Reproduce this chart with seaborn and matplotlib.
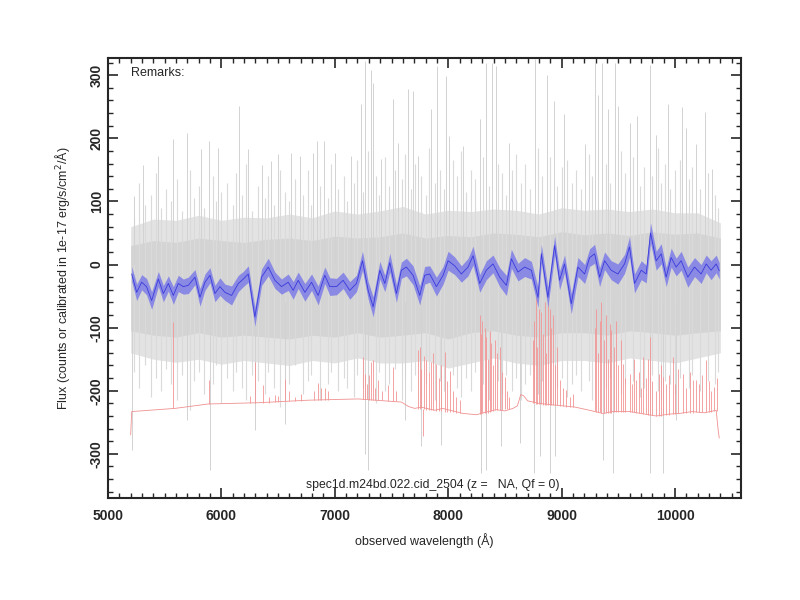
import seaborn as sns
import matplotlib.pyplot as plt
import pandas as pd
import numpy as np
from matplotlib.ticker import MultipleLocator

sns.set_style("ticks")
plt.rcParams["font.family"] = ["Liberation Sans", "DejaVu Sans"]
plt.rcParams["axes.unicode_minus"] = False

# --- smoothed object spectrum (blue) ---
blue_wl = [5209, 5253, 5297, 5340, 5385, 5444, 5488, 5532, 5576, 5620,
           5664, 5708, 5767, 5811, 5855, 5899, 5943, 5987, 6031, 6090,
           6149, 6193, 6237, 6295, 6354, 6413, 6472, 6530, 6589, 6633,
           6677, 6736, 6795, 6853, 6912, 6956, 7015, 7073, 7132, 7191,
           7244, 7294, 7338, 7397, 7441, 7485, 7543, 7587, 7631, 7690,
           7749, 7793, 7837, 7896, 7955, 7999, 8057, 8116, 8175, 8219,
           8278, 8336, 8395, 8454, 8513, 8557, 8615, 8674, 8733, 8792,
           8821, 8879, 8938, 8982, 9026, 9085, 9144, 9203, 9247, 9291,
           9335, 9379, 9437, 9496, 9555, 9599, 9643, 9702, 9746, 9784,
           9834, 9878, 9922, 9966, 10010, 10054, 10113, 10172, 10230, 10275,
           10318, 10363, 10390]
blue_flux = [-15, -44, -28, -35, -57, -23, -46, -30, -49, -30,
             -35, -33, -20, -52, -28, -17, -46, -35, -44, -49,
             -30, -23, -15, -83, -20, -4, -25, -35, -28, -41,
             -25, -44, -28, -49, -17, -35, -35, -25, -41, -30,
             6, -41, -67, -9, -30, 3, -46, -9, -4, -17,
             -49, -17, -15, -35, -17, 6, -2, -15, -4, 14,
             -30, -9, 1, -20, -33, 9, -12, -4, -9, -52,
             17, -52, 30, -25, 1, -62, -4, -15, 11, 17,
             -20, 6, -9, -15, 1, 28, -30, -9, -15, 50,
             6, 17, -20, 11, -4, 6, -20, -4, -15, 1,
             -9, 1, -10]
blue_err = [12, 13, 12, 13, 14, 12, 13, 12, 14, 13,
            12, 13, 12, 14, 13, 12, 13, 14, 13, 15,
            13, 12, 13, 15, 13, 14, 13, 12, 13, 14,
            13, 14, 13, 15, 13, 14, 13, 13, 14, 13,
            15, 14, 16, 14, 13, 15, 14, 13, 14, 15,
            15, 14, 13, 15, 14, 15, 14, 13, 14, 15,
            14, 15, 14, 15, 16, 15, 14, 15, 14, 16,
            15, 16, 15, 15, 14, 16, 15, 15, 14, 15,
            15, 14, 15, 16, 15, 16, 15, 15, 14, 16,
            15, 16, 15, 15, 14, 15, 16, 15, 15, 14,
            15, 14, 13]

# --- raw spectrum (grey): dense core and wider band, every 200 A from 5200 ---
env_wl = list(range(5200, 10401, 200))
core_hi = [30, 38, 35, 42, 38, 35, 40, 42, 38, 45, 42, 44, 50, 42,
           46, 44, 50, 48, 44, 52, 47, 50, 46, 52, 48, 50, 42]
core_lo = [-105, -112, -115, -108, -115, -112, -115, -118, -112, -115,
           -108, -115, -112, -108, -118, -108, -105, -112, -115, -108,
           -108, -112, -105, -108, -112, -108, -105]
band_hi = [60, 72, 70, 78, 70, 75, 74, 80, 74, 85, 80, 85, 92, 80,
           86, 84, 88, 86, 80, 90, 86, 88, 84, 88, 82, 82, 66]
band_lo = [-140, -150, -155, -150, -158, -152, -156, -160, -152, -156,
           -148, -156, -156, -152, -164, -156, -148, -156, -160, -152,
           -152, -156, -148, -152, -156, -148, -140]

# strokes of the noisy pixels around the core
grey_mid_wl = [5225, 5270, 5330, 5375, 5420, 5470, 5515, 5555, 5610, 5650,
               5720, 5760, 5800, 5850, 5925, 5950, 6000, 6050, 6100, 6130,
               6180, 6215, 6270, 6320, 6385, 6410, 6460, 6520, 6560, 6600,
               6650, 6720, 6760, 6790, 6870, 6940, 6970, 7030, 7080, 7110,
               7170, 7200, 7250, 7290, 7360, 7390, 7440, 7480, 7530, 7590,
               7620, 7670, 7710, 7760, 7800, 7830, 7880, 7930, 7960, 8040,
               8080, 8110, 8160, 8200, 8240, 8310, 8360, 8440, 8470, 8510,
               8560, 8600, 8640, 8680, 8720, 8790, 8830, 8900, 8960, 9000,
               9050, 9090, 9130, 9170, 9240, 9270, 9390, 9430, 9520, 9560,
               9630, 9690, 9730, 9800, 9850, 9880, 9910, 9960, 10000, 10040,
               10120, 10150, 10220, 10290, 10350, 10375]
grey_mid_top = [75, 130, 95, 110, 145, 90, 120, 100, 135, 85,
                150, 105, 125, 90, 140, 100, 115, 130, 95, 145,
                110, 160, 85, 125, 105, 140, 95, 150, 115, 100,
                135, 110, 150, 95, 125, 105, 160, 120, 140, 100,
                130, 165, 115, 180, 140, 110, 170, 125, 150, 135,
                175, 120, 160, 140, 110, 185, 130, 150, 120, 165,
                140, 180, 115, 150, 135, 170, 125, 160, 145, 110,
                150, 175, 130, 160, 120, 185, 140, 170, 125, 155,
                165, 130, 150, 120, 175, 140, 160, 130, 180, 145,
                170, 125, 155, 140, 185, 130, 160, 120, 150, 165,
                135, 155, 120, 145, 110, 90]
grey_mid_bot = [-170, -195, -160, -210, -180, -200, -165, -190, -215, -175,
                -230, -185, -170, -205, -190, -160, -220, -180, -200, -170,
                -195, -215, -175, -185, -205, -170, -195, -225, -180, -190,
                -160, -205, -185, -175, -215, -190, -170, -200, -180, -195,
                -210, -175, -195, -185, -220, -170, -200, -190, -165, -215,
                -180, -200, -175, -210, -190, -170, -215, -185, -200, -175,
                -195, -210, -180, -200, -170, -190, -215, -185, -205, -175,
                -200, -180, -215, -190, -175, -205, -185, -220, -195, -180,
                -210, -190, -175, -200, -185, -215, -195, -180, -205, -190,
                -185, -210, -195, -175, -200, -215, -185, -190, -205, -180,
                -195, -175, -200, -185, -190, -170]

# single noisy pixels reaching far up / down
grey_up_wl = [5232, 5312, 5444, 5576, 5693, 5820, 5890, 5972, 6154, 6237,
              6354, 6433, 6501, 6618, 6692, 6809, 6839, 6906, 7000, 7147,
              7229, 7270, 7315, 7338, 7411, 7514, 7558, 7646, 7690, 7734,
              7852, 7902, 7984, 8007, 8131, 8278, 8336, 8389, 8418, 8536,
              8762, 8871, 8930, 9021, 9203, 9291, 9320, 9355, 9408, 9467,
              9496, 9599, 9664, 9775, 9828, 9937, 10063, 10098, 10187, 10263,
              10328]
grey_up_top = [109, 157, 172, 199, 209, 183, 196, 185, 251, 183,
               157, 164, 175, 177, 172, 177, 196, 196, 177, 172,
               254, 322, 309, 288, 167, 262, 193, 278, 275, 172,
               246, 314, 298, 204, 188, 230, 320, 320, 314, 193,
               325, 301, 259, 238, 191, 325, 269, 320, 246, 320,
               251, 225, 235, 317, 206, 254, 249, 217, 191, 241,
               151]
grey_dn_wl = [5209, 5693, 5899, 6295, 6560, 7265, 7290, 7617, 7764, 7940,
              8292, 8336, 8468, 8630, 8753, 8806, 8894, 8938, 9364, 9452,
              9775, 9893, 10010]
grey_dn_bot = [-294, -246, -325, -262, -252, -300, -325, -246, -288, -286,
               -330, -325, -288, -283, -330, -304, -330, -304, -310, -330,
               -330, -330, -246]

# --- sky spectrum (red), offset below the object ---
red_base_wl = [5200, 5209, 5590, 5884, 6325, 6765, 7206, 7588, 7650, 7705,
               7760, 7881, 7950, 8131, 8248, 8330, 8424, 8500, 8571, 8610,
               8640, 8665, 8700, 8800, 8900, 9012, 9120, 9247, 9364, 9450,
               9599, 9700, 9834, 9950, 10040, 10150, 10260, 10363, 10380, 10390]
red_base = [-270, -233, -228, -221, -219, -215, -213, -218, -225, -228,
            -226, -231, -228, -236, -238, -234, -230, -232, -228, -224,
            -206, -208, -216, -220, -222, -224, -226, -231, -236, -233,
            -233, -236, -240, -237, -236, -233, -235, -231, -262, -275]
red_line_wl = [5577, 5890, 6250, 6300, 6363, 6470, 6560, 6853, 6912, 6941,
               7250, 7265, 7323, 7338, 7382, 7470, 7514, 7734, 7749, 7808,
               7852, 7896, 7969, 8013, 8280, 8300, 8336, 8380, 8410, 8454,
               8498, 8747, 8771, 8800, 8850, 8880, 8920, 8983, 9041, 9305,
               9350, 9393, 9437, 9481, 9540, 9599, 9658, 9717, 9775, 9863,
               9893, 9981, 10069, 10157, 10187, 10275, 10348,
               7780, 6420, 6500, 6600, 6650, 6700, 6820, 6880, 7280, 7300,
               7355, 7420, 7540, 7760, 7790, 7830, 7870, 7920, 7940, 7990,
               8040, 8070, 8100, 8290, 8320, 8350, 8370, 8395, 8430, 8470,
               8520, 8540, 8760, 8785, 8815, 8835, 8865, 8895, 8910, 8940,
               8960, 9010, 9070, 9100, 9290, 9320, 9335, 9370, 9410, 9425,
               9460, 9500, 9520, 9560, 9620, 9640, 9680, 9700, 9740, 9760,
               9800, 9830, 9880, 9920, 9950, 10000, 10030, 10100, 10130, 10210,
               10240, 10300, 10320, 10370]
red_line_top = [-91, -183, -209, -154, -191, -207, -181, -188, -196, -201,
                -146, -173, -154, -151, -183, -191, -162, -136, -130, -151,
                -154, -157, -139, -168, -80, -90, -115, -125, -120, -131,
                -178, -120, -50, -70, -60, -45, -80, -183, -199, -70,
                -60, -80, -104, -90, -157, -173, -183, -146, -115, -173,
                -178, -146, -173, -183, -183, -151, -194,
                -272, -210, -208, -200, -210, -205, -200, -195, -190, -175,
                -195, -200, -200, -165, -145, -170, -140, -180, -160, -185,
                -200, -210, -215, -110, -100, -150, -105, -160, -140, -170,
                -200, -210, -90, -130, -75, -110, -140, -70, -100, -160,
                -130, -195, -210, -205, -100, -140, -90, -120, -150, -95,
                -130, -160, -120, -180, -190, -150, -170, -195, -180, -150,
                -185, -200, -160, -190, -175, -190, -165, -195, -170, -190,
                -175, -185, -200, -180]
red_line_base = [-228, -221, -220, -219, -219, -218, -217, -215, -215, -214,
                 -213, -213, -214, -214, -215, -216, -217, -229, -229, -230,
                 -231, -232, -233, -234, -237, -236, -235, -232, -231, -230,
                 -229, -220, -221, -221, -222, -222, -223, -224, -225, -233,
                 -235, -235, -235, -234, -234, -233, -235, -237, -239, -240,
                 -239, -237, -236, -235, -234, -233, -232,
                 -229, -219, -218, -217, -216, -216, -215, -215, -213, -214,
                 -214, -215, -217, -227, -229, -230, -231, -232, -232, -233,
                 -234, -235, -235, -237, -236, -235, -234, -232, -231, -230,
                 -229, -229, -220, -221, -221, -222, -222, -222, -223, -223,
                 -223, -224, -225, -226, -232, -233, -234, -235, -235, -235,
                 -234, -234, -234, -234, -233, -234, -235, -236, -237, -238,
                 -239, -240, -240, -239, -238, -237, -236, -235, -235, -234,
                 -234, -233, -233, -232]

blue = pd.DataFrame({"wl": blue_wl, "flux": blue_flux, "err": blue_err})
env = pd.DataFrame({"wl": env_wl, "core_hi": core_hi, "core_lo": core_lo,
                    "band_hi": band_hi, "band_lo": band_lo})
sky = pd.DataFrame({"wl": red_base_wl, "flux": red_base})

fig = plt.figure(figsize=(8, 6), dpi=100)
ax = fig.add_axes([0.135, 0.17, 0.791, 0.733])

# grey raw spectrum
ax.fill_between(env["wl"], env["band_lo"], env["band_hi"], color="#e3e3e3", lw=0, zorder=1)
ax.fill_between(env["wl"], env["core_lo"], env["core_hi"], color="#d4d4d4", lw=0, zorder=1)
ax.vlines(grey_mid_wl, -40, grey_mid_top, color="#dadada", lw=0.8, zorder=1.2)
ax.vlines(grey_mid_wl, grey_mid_bot, -40, color="#dadada", lw=0.8, zorder=1.2)
ax.vlines(grey_up_wl, 0, grey_up_top, color="#d2d2d2", lw=0.7, zorder=1.3)
ax.vlines(grey_dn_wl, grey_dn_bot, -60, color="#d2d2d2", lw=0.7, zorder=1.3)

# red sky
sns.lineplot(data=sky, x="wl", y="flux", ax=ax, color="#f09090", lw=0.6,
             sort=True, estimator=None, zorder=2)
ax.vlines(red_line_wl, red_line_base, red_line_top, color="#f29494", lw=0.6, zorder=2)

# blue smoothed spectrum with its error band
ax.fill_between(blue["wl"], blue["flux"] - blue["err"], blue["flux"] + blue["err"],
                color="#8a8ae4", lw=0, zorder=3)
sns.lineplot(data=blue, x="wl", y="flux", ax=ax, color="#3a3adc", lw=0.6,
             sort=True, estimator=None, zorder=4)

ax.set_xlim(5000, 10580)
ax.set_ylim(-370, 327)
ax.xaxis.set_major_locator(MultipleLocator(1000))
ax.xaxis.set_minor_locator(MultipleLocator(100))
ax.yaxis.set_major_locator(MultipleLocator(100))
ax.yaxis.set_minor_locator(MultipleLocator(20))
ax.tick_params(which="both", direction="in", top=True, right=True,
               labelsize=10, width=1.2)
ax.tick_params(which="major", length=7)
ax.tick_params(which="minor", length=3.5, width=1)
ax.tick_params(axis="x", pad=8)
ax.tick_params(axis="y", pad=3, labelrotation=90)
for lab in ax.get_xticklabels() + ax.get_yticklabels():
    lab.set_fontweight("bold")
plt.setp(ax.get_yticklabels(), va="center")
for sp in ax.spines.values():
    sp.set_linewidth(1.5)
    sp.set_zorder(5)

ax.set_xlabel("observed wavelength (Å)", fontsize=9, labelpad=7)
ax.set_ylabel("Flux (counts or calibrated in 1e-17 erg/s/cm$^2$/Å)",
              fontsize=9, labelpad=13)
ax.text(0.036, 0.966, "Remarks:", transform=ax.transAxes, fontsize=9,
        ha="left", va="center", zorder=6)
ax.text(0.513, 0.03, "spec1d.m24bd.022.cid_2504 (z =   NA, Qf = 0)",
        transform=ax.transAxes, fontsize=8.8, ha="center", va="center", zorder=6)

fig.savefig("out.png", dpi=100)
plt.close(fig)
